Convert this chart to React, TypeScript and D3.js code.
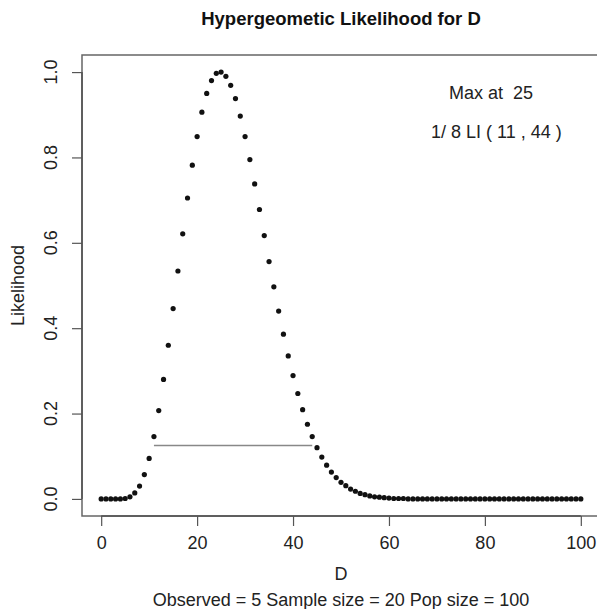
import React, { useRef, useEffect } from 'react'
import * as d3 from 'd3'

// likelihood (scaled to max = 1) for D = 0..100
const dValues: number[] = d3.range(0, 101)
const likelihood: number[] = [
    0, 0, 0, 0, 0, 0.001, 0.005, 0.014, 0.030, 0.057,
    0.095, 0.146, 0.207, 0.280, 0.360, 0.446, 0.534, 0.621, 0.705, 0.782,
    0.849, 0.906, 0.950, 0.980, 0.997, 1.000, 0.990, 0.969, 0.938, 0.897,
    0.849, 0.795, 0.738, 0.678, 0.617, 0.556, 0.497, 0.440, 0.386, 0.335,
    0.289, 0.247, 0.209, 0.175, 0.146, 0.120, 0.098, 0.079, 0.063, 0.050,
    0.039, 0.031, 0.023, 0.018, 0.013, 0.010, 0.007, 0.005, 0.004, 0.003,
    0.002, 0.001, 0.001, 0.001, 0, 0, 0, 0, 0, 0,
    0, 0, 0, 0, 0, 0, 0, 0, 0, 0,
    0, 0, 0, 0, 0, 0, 0, 0, 0, 0,
    0, 0, 0, 0, 0, 0, 0, 0, 0, 0,
    0,
]
const xTicks = [0, 20, 40, 60, 80, 100]
const yTicks = [0, 0.2, 0.4, 0.6, 0.8, 1.0]
const liBounds = [11, 44]
const liLevel = 1 / 8
const maxAt = 25

const title = 'Hypergeometic Likelihood for D'
const xLabel = 'D'
const yLabel = 'Likelihood'
const subLabel = 'Observed = 5 Sample size = 20 Pop size = 100'

const FONT = '"Liberation Sans", Arial, Helvetica, sans-serif'

export default function App() {
    const svgRef = useRef<SVGSVGElement>(null)

    useEffect(() => {
        document.body.style.margin = '0'
        if (!svgRef.current) return
        const width = 597
        const height = 609
        const svg = d3.select(svgRef.current)
        svg.attr('width', width).attr('height', height)
        svg.selectAll('*').remove()

        // R style: axis ranges padded by 4%
        const x = d3.scaleLinear().domain([-4, 104]).range([82, 600])
        const y = d3.scaleLinear().domain([-0.04, 1.04]).range([516, 55])
        const cx = (x.range()[0] + x.range()[1]) / 2
        const cy = (y.range()[0] + y.range()[1]) / 2

        svg.append('rect').attr('width', width).attr('height', height).attr('fill', '#fff')

        // title
        svg.append('text')
            .attr('x', cx).attr('y', 25)
            .attr('text-anchor', 'middle')
            .style('font-family', FONT).style('font-size', '18.5px').style('font-weight', 'bold')
            .attr('fill', '#111')
            .text(title)

        // box
        svg.append('rect')
            .attr('x', x(-4)).attr('y', y(1.04))
            .attr('width', x(104) - x(-4)).attr('height', y(-0.04) - y(1.04))
            .attr('fill', 'none').attr('stroke', '#666').attr('stroke-width', 1.5)

        // x axis
        const gx = svg.append('g').attr('transform', `translate(0,${y(-0.04)})`)
        gx.call(d3.axisBottom(x).tickValues(xTicks).tickSize(10).tickPadding(10).tickFormat(d3.format('d')))
            .call(g => g.select('.domain').attr('stroke', '#333').attr('d', `M${x(0)},0H${x(100)}`))
            .call(g => g.selectAll('.tick line').attr('stroke', '#555').attr('stroke-width', 1.2))
            .call(g => g.selectAll('text').attr('fill', '#222').style('font-family', FONT).style('font-size', '18px'))

        // y axis (labels parallel to the axis)
        const gy = svg.append('g').attr('transform', `translate(${x(-4)},0)`)
        gy.call(d3.axisLeft(y).tickValues(yTicks).tickSize(10).tickFormat(() => ''))
            .call(g => g.select('.domain').attr('stroke', '#333').attr('d', `M0,${y(0)}V${y(1)}`))
            .call(g => g.selectAll('.tick line').attr('stroke', '#555').attr('stroke-width', 1.2))
        yTicks.forEach(t => {
            svg.append('text')
                .attr('transform', `translate(51,${y(t)}) rotate(-90)`)
                .attr('text-anchor', 'middle').attr('dominant-baseline', 'central')
                .attr('fill', '#222')
                .style('font-family', FONT).style('font-size', '18px')
                .text(d3.format('.1f')(t))
        })

        // axis labels
        svg.append('text')
            .attr('x', cx).attr('y', 580)
            .attr('text-anchor', 'middle')
            .attr('fill', '#222')
            .style('font-family', FONT).style('font-size', '18px')
            .text(xLabel)
        svg.append('text')
            .attr('x', cx).attr('y', 606)
            .attr('text-anchor', 'middle')
            .attr('fill', '#222')
            .style('font-family', FONT).style('font-size', '18px')
            .text(subLabel)
        svg.append('text')
            .attr('transform', `translate(18,${cy}) rotate(-90)`)
            .attr('text-anchor', 'middle').attr('dominant-baseline', 'central')
            .attr('fill', '#222')
            .style('font-family', FONT).style('font-size', '18px')
            .text(yLabel)

        // 1/8 likelihood interval
        svg.append('line')
            .attr('x1', x(liBounds[0])).attr('x2', x(liBounds[1]))
            .attr('y1', y(liLevel)).attr('y2', y(liLevel))
            .attr('stroke', '#888').attr('stroke-width', 1.5)

        // points
        svg.append('g')
            .selectAll('circle')
            .data(dValues)
            .join('circle')
            .attr('cx', d => x(d))
            .attr('cy', (d, i) => y(likelihood[i]))
            .attr('r', 2.6)
            .attr('fill', '#111')

        // annotations
        svg.append('text')
            .attr('x', x(81.3)).attr('y', y(0.95))
            .attr('text-anchor', 'middle').attr('dominant-baseline', 'central')
            .attr('fill', '#222')
            .style('font-family', FONT).style('font-size', '18px')
            .style('white-space', 'pre')
            .text(`Max at  ${maxAt}`)
        svg.append('text')
            .attr('x', x(82.4)).attr('y', y(0.86))
            .attr('text-anchor', 'middle').attr('dominant-baseline', 'central')
            .attr('fill', '#222')
            .style('font-family', FONT).style('font-size', '18px')
            .style('white-space', 'pre')
            .text(`1/ 8 LI ( ${liBounds[0]} , ${liBounds[1]} )`)
    }, [])

    return (
        <div style={{ width: 597, height: 609 }}>
            <svg ref={svgRef} style={{ display: 'block' }} />
        </div>
    )
}
